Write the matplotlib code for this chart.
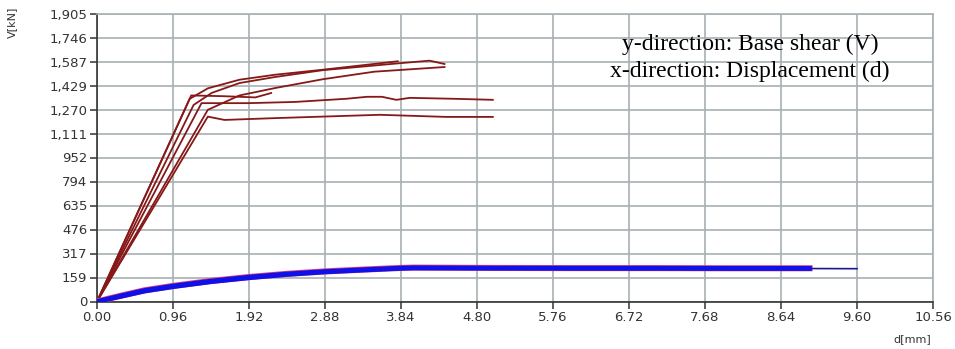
import numpy as np
import matplotlib
matplotlib.use('Agg')
import matplotlib.pyplot as plt

# pushover curves, d [mm] vs V [kN]
c1_d = [0, 1.19, 1.60, 2.00, 2.20]
c1_v = [0, 1363, 1358, 1350, 1379]
c2_d = [0, 1.17, 1.40, 1.80, 2.25, 2.85, 3.80]
c2_v = [0, 1340, 1410, 1467, 1500, 1533, 1589]
c3_d = [0, 1.22, 1.45, 1.80, 2.25, 2.85, 3.80, 4.20, 4.39]
c3_v = [0, 1300, 1380, 1445, 1485, 1530, 1575, 1593, 1571]
c4_d = [0, 1.40, 1.80, 2.25, 2.85, 3.50, 4.39]
c4_v = [0, 1268, 1363, 1412, 1470, 1520, 1551]
c5_d = [0, 1.32, 1.91, 2.50, 3.15, 3.41, 3.60, 3.78, 3.95, 4.50, 5.00]
c5_v = [0, 1312, 1312, 1320, 1341, 1354, 1354, 1334, 1347, 1341, 1334]
c6_d = [0, 1.40, 1.61, 2.25, 3.57, 4.41, 5.00]
c6_v = [0, 1223, 1201, 1213, 1235, 1221, 1221]

blue_d = [0, 0.30, 0.60, 0.96, 1.44, 1.92, 2.40, 2.88, 3.36, 3.84, 4.00, 5.00, 6.00, 7.00, 8.00, 9.00]
blue_v = [0, 38, 74, 103, 136, 162, 183, 199, 211, 222, 224, 222, 221, 221, 220, 220]
blue2_v = [0, 33, 68, 97, 130, 156, 178, 195, 207, 219, 221, 220, 219, 219, 218, 218]
tail_d = [8.60, 9.00, 9.60]
tail_v = [218, 218, 217]

xticks = [0.96 * i for i in range(12)]
xlabels = ['0.00', '0.96', '1.92', '2.88', '3.84', '4.80', '5.76', '6.72', '7.68', '8.64', '9.60', '10.56']
yticks = [1905 / 12 * i for i in range(13)]
ylabels = ['0', '159', '317', '476', '635', '794', '952', '1,111', '1,270', '1,429', '1,587', '1,746', '1,905']

fig = plt.figure(figsize=(9.55, 3.49), dpi=100)
ax = fig.add_axes([97/955, 1 - 301.5/349, (933-97)/955, (301.5-13.5)/349])

red = '#861818'
for d, v in [(c1_d, c1_v), (c2_d, c2_v), (c3_d, c3_v), (c4_d, c4_v), (c5_d, c5_v), (c6_d, c6_v)]:
	ax.plot(d, v, color=red, lw=1.3, zorder=3)

ax.plot(blue_d, blue_v, color='#e0407a', lw=4.4, zorder=3)
ax.plot(tail_d, tail_v, color='#1a1a8c', lw=1.2, zorder=3)
ax.plot(blue_d, blue_v, color='#1010e8', lw=3.2, zorder=4)
ax.plot(blue_d, blue2_v, color='#1010e8', lw=3.2, zorder=4)

ax.set_xlim(0, 10.56)
ax.set_ylim(0, 1905)
ax.set_xticks(xticks, xlabels)
ax.set_yticks(yticks, ylabels)
ax.grid(True, color='#a8b0b4', lw=1.2, zorder=0)
ax.set_axisbelow(True)
for s in ['top', 'right']:
	ax.spines[s].set_color('#a8b0b4')
	ax.spines[s].set_linewidth(1.2)
for s in ['left', 'bottom']:
	ax.spines[s].set_color('#333333')
	ax.spines[s].set_linewidth(1.2)
ax.tick_params(direction='out', length=5, width=1.1, color='#333333', labelcolor='#333333', labelsize=9.5, pad=2)

fig.text(12/955, 1 - 22/349, 'V[kN]', rotation=90, ha='center', va='center', fontsize=8, color='#333333')
fig.text(912/955, 1 - 339/349, 'd[mm]', ha='center', va='center', fontsize=8, color='#333333')

ax.text(0.781, 0.893, 'y-direction: Base shear (V)', transform=ax.transAxes, ha='center', va='center', fontsize=17, family='Liberation Serif', color='black', zorder=6)
ax.text(0.781, 0.80, 'x-direction: Displacement (d)', transform=ax.transAxes, ha='center', va='center', fontsize=17, family='Liberation Serif', color='black', zorder=6)

fig.savefig('out.png', dpi=100)
